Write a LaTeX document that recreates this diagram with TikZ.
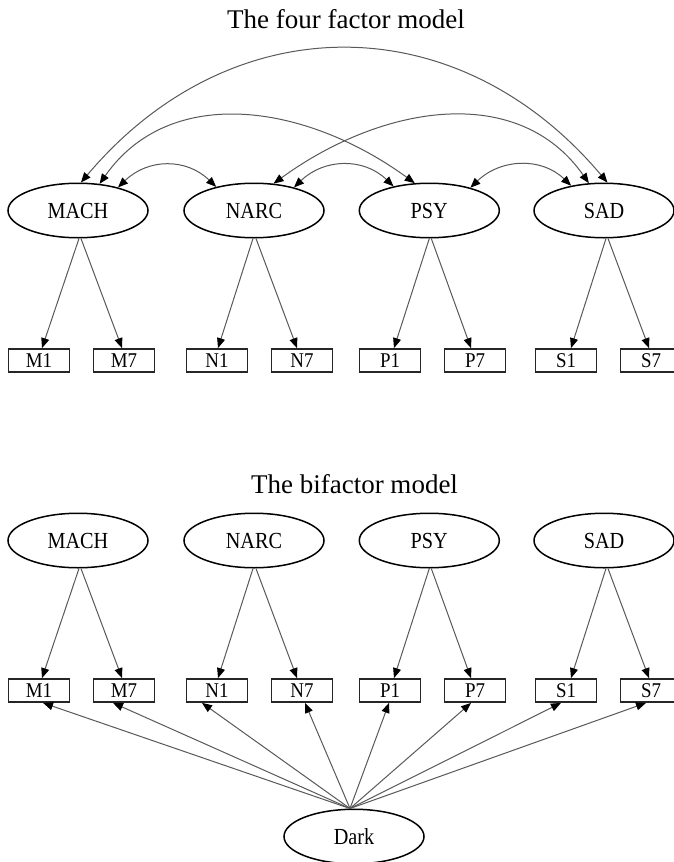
\documentclass[tikz,border=0pt]{standalone}
\usepackage{fontspec}
\setmainfont{Liberation Serif}
\newfontfamily\mylabff[FakeStretch=0.88]{Liberation Serif}
\newfontfamily\myboxff[FakeStretch=0.9]{Liberation Serif}
\usetikzlibrary{shapes.geometric,arrows.meta}
\newcommand{\mylabfont}{\mylabff\fontsize{23}{23}\selectfont}
\newcommand{\myboxfont}{\myboxff\fontsize{21}{21}\selectfont}
\newcommand{\mytitlefont}{\fontsize{27}{27}\selectfont}
\tikzset{
  lat/.style={ellipse, draw=black, line width=1.5pt, minimum width=140pt, minimum height=54.5pt, inner sep=0pt, font=\mylabfont},
  obs/.style={rectangle, draw=black!85, line width=1.8pt, minimum width=61pt, minimum height=23pt, inner sep=0pt, font=\myboxfont},
  tipx/.tip={Triangle[length=10pt,width=8pt,color=black]},
  load/.style={draw=black!65, line width=1pt, -tipx},
  cov/.style={draw=black!65, line width=1pt, tipx-tipx},
  ttl/.style={anchor=base, inner sep=0pt, font=\mytitlefont}
}
\begin{document}
\begin{tikzpicture}[x=1pt,y=-1pt]
\useasboundingbox[fill=white] (0,0) rectangle (674,862);

% titles
\node[ttl] (t1) at (346,28) {The four factor model};
\node[ttl] (t2) at (354.5,493.5) {The bifactor model};

% four factor model
\foreach \n/\x in {MACH/78,NARC/254,PSY/429.3,SAD/604}
  \node[lat] (\n) at (\x,210.5) {\n};
\foreach \n/\x in {M1/39,M7/124,N1/217,N7/302,P1/390,P7/475,S1/566,S7/651}
  \node[obs] (\n) at (\x,360.5) {\n};

\draw[load] ([xshift=1pt]MACH.south) -- ([xshift=3pt]M1.north);
\draw[load] ([xshift=3pt]MACH.south) -- ([xshift=-2pt]M7.north);
\draw[load] ([xshift=-1pt]NARC.south) -- ([xshift=1pt]N1.north);
\draw[load] ([xshift=2pt]NARC.south) -- ([xshift=-5pt]N7.north);
\draw[load] (PSY.south) -- ([xshift=4pt]P1.north);
\draw[load] ([xshift=2pt]PSY.south) -- ([xshift=-4pt]P7.north);
\draw[load] ([xshift=2pt]SAD.south) -- ([xshift=5pt]S1.north);
\draw[load] ([xshift=4pt]SAD.south) -- ([xshift=-2pt]S7.north);

\draw[cov] (MACH.84) .. controls +(150,-178) and +(-150,-178) .. (SAD.83);
\draw[cov] (MACH.51) .. controls +(70,-100) and +(-110,-80) .. (PSY.118);
\draw[cov] (NARC.54) .. controls +(110,-80) and +(-70,-100) .. (SAD.119);
\draw[cov] (MACH.30) .. controls +(30,-29) and +(-30,-29) .. (NARC.148);
\draw[cov] (NARC.30) .. controls +(30,-29) and +(-30,-29) .. (PSY.146);
\draw[cov] (PSY.29) .. controls +(30,-29) and +(-30,-29) .. (SAD.143);

% bifactor model
\foreach \n/\x in {MACH/78,NARC/254,PSY/429.3,SAD/604}
  \node[lat] (b\n) at (\x,540.5) {\n};
\foreach \n/\x in {M1/39,M7/124,N1/217,N7/302,P1/390,P7/475,S1/566,S7/651}
  \node[obs] (b\n) at (\x,690.5) {\n};
\node[lat] (Dark) at (354,836.5) {Dark};

\draw[load] ([xshift=1pt]bMACH.south) -- ([xshift=3pt]bM1.north);
\draw[load] ([xshift=3pt]bMACH.south) -- ([xshift=-2pt]bM7.north);
\draw[load] ([xshift=-1pt]bNARC.south) -- ([xshift=1pt]bN1.north);
\draw[load] ([xshift=2pt]bNARC.south) -- ([xshift=-5pt]bN7.north);
\draw[load] (bPSY.south) -- ([xshift=4pt]bP1.north);
\draw[load] ([xshift=2pt]bPSY.south) -- ([xshift=-4pt]bP7.north);
\draw[load] ([xshift=2pt]bSAD.south) -- ([xshift=5pt]bS1.north);
\draw[load] ([xshift=4pt]bSAD.south) -- ([xshift=-2pt]bS7.north);

\coordinate (dk) at ([xshift=-4pt]Dark.north);
\draw[load] (dk) -- ([xshift=4pt]bM1.south);
\draw[load] (dk) -- ([xshift=-11pt]bM7.south);
\draw[load] (dk) -- ([xshift=-15pt]bN1.south);
\draw[load] (dk) -- ([xshift=3pt]bN7.south);
\draw[load] (dk) -- ([xshift=-1pt]bP1.south);
\draw[load] (dk) -- ([xshift=-4pt]bP7.south);
\draw[load] (dk) -- ([xshift=-5pt]bS1.south);
\draw[load] (dk) -- ([xshift=-5pt]bS7.south);
\end{tikzpicture}
\end{document}
